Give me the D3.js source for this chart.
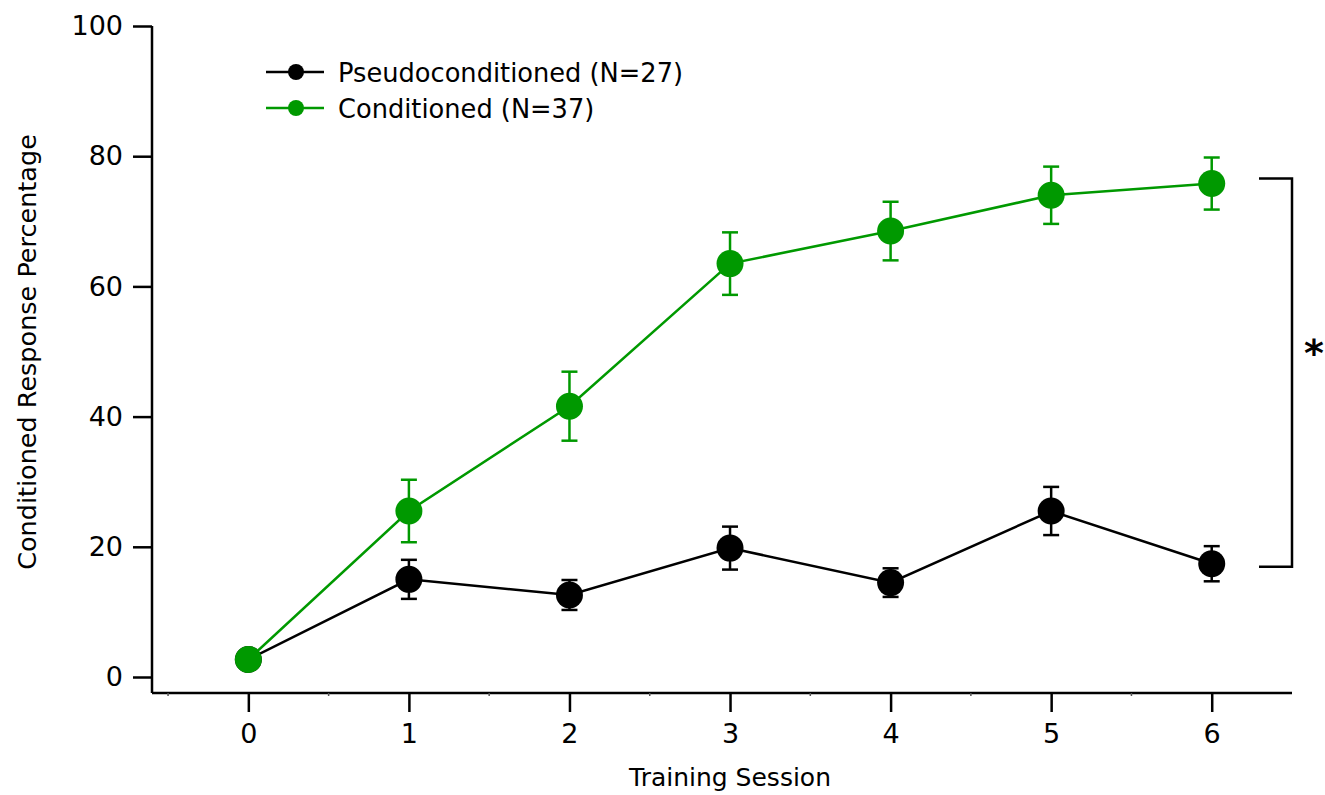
<!DOCTYPE html>
<html>
<head>
<meta charset="utf-8">
<script src="https://cdn.jsdelivr.net/npm/d3@7"></script>
<style>
  html, body { margin: 0; padding: 0; background: #fff; }
  svg { display: block; font-family: "DejaVu Sans", sans-serif; }
</style>
</head>
<body>
<svg id="chart" width="1325" height="795"></svg>
<script>
// ---- data ----
const sessions = [0, 1, 2, 3, 4, 5, 6];
const pseudoMean = [2.7, 15.0, 12.6, 19.8, 14.5, 25.5, 17.4];
const pseudoErr  = [0, 3.0, 2.3, 3.3, 2.2, 3.7, 2.7];
const condMean   = [2.7, 25.5, 41.6, 63.5, 68.5, 74.0, 75.8];
const condErr    = [0, 4.8, 5.3, 4.8, 4.5, 4.4, 4.0];
const seriesNames = ["Pseudoconditioned (N=27)", "Conditioned (N=37)"];
const seriesColors = ["#000000", "#009900"];
const yTicks = [0, 20, 40, 60, 80, 100];
const xTicks = [0, 1, 2, 3, 4, 5, 6];
const xMinorTicks = [-0.5, 0.5, 1.5, 2.5, 3.5, 4.5, 5.5];
const xTitle = "Training Session";
const yTitle = "Conditioned Response Percentage";
const sigMark = "*";

const svg = d3.select("#chart");
const x = d3.scaleLinear().domain([-0.6, 6.5]).range([152, 1292]);
const y = d3.scaleLinear().domain([0, 100]).range([677, 26]);
const xAxisY = 693;

// axes
const yAxis = svg.append("g").attr("transform", `translate(${x(-0.6)},0)`)
  .call(d3.axisLeft(y).tickValues(yTicks).tickSize(19).tickPadding(10).tickSizeOuter(0));
yAxis.select(".domain").remove();
yAxis.append("line").attr("x1", 0).attr("x2", 0).attr("y1", y(100)).attr("y2", xAxisY)
  .attr("stroke", "#000").attr("stroke-width", 2.5);
yAxis.selectAll(".tick line").attr("stroke-width", 2.5);
yAxis.selectAll(".tick text").attr("font-size", 27).attr("font-family", "DejaVu Sans").attr("fill", "#000");

const xAxis = svg.append("g").attr("transform", `translate(0,${xAxisY})`)
  .call(d3.axisBottom(x).tickValues(xTicks).tickSize(19).tickPadding(12).tickSizeOuter(0));
xAxis.select(".domain").remove();
xAxis.append("line").attr("x1", x(-0.6)).attr("x2", x(6.5)).attr("y1", 0).attr("y2", 0)
  .attr("stroke", "#000").attr("stroke-width", 2.5);
xAxis.selectAll(".tick line").attr("stroke-width", 2.5);
xAxis.selectAll(".tick text").attr("font-size", 27).attr("font-family", "DejaVu Sans").attr("fill", "#000");
xAxis.selectAll(".minor").data(xMinorTicks).enter().append("line")
  .attr("x1", d => x(d)).attr("x2", d => x(d)).attr("y1", 0).attr("y2", 3)
  .attr("stroke", "#555").attr("stroke-width", 1.5);

// titles
svg.append("text").attr("x", x(3)).attr("y", 786).attr("text-anchor", "middle")
  .attr("font-size", 25).text(xTitle);
svg.append("text").attr("transform", `translate(36,352) rotate(-90)`).attr("text-anchor", "middle")
  .attr("font-size", 25.5).text(yTitle);

// series
const allSeries = [
  { mean: pseudoMean, err: pseudoErr, color: seriesColors[0] },
  { mean: condMean, err: condErr, color: seriesColors[1] }
];
const line = d3.line().x(d => x(d[0])).y(d => y(d[1]));
allSeries.forEach(s => {
  const pts = sessions.map((t, i) => [t, s.mean[i], s.err[i]]);
  const g = svg.append("g");
  g.append("path").datum(pts).attr("d", line).attr("fill", "none")
    .attr("stroke", s.color).attr("stroke-width", 2.5);
  const eb = g.selectAll(".eb").data(pts.filter(p => p[2] > 0)).enter().append("g");
  eb.append("line").attr("x1", d => x(d[0])).attr("x2", d => x(d[0]))
    .attr("y1", d => y(d[1] + d[2])).attr("y2", d => y(d[1] - d[2]))
    .attr("stroke", s.color).attr("stroke-width", 2.5);
  [1, -1].forEach(sg => {
    eb.append("line").attr("x1", d => x(d[0]) - 8).attr("x2", d => x(d[0]) + 8)
      .attr("y1", d => y(d[1] + sg * d[2])).attr("y2", d => y(d[1] + sg * d[2]))
      .attr("stroke", s.color).attr("stroke-width", 2.5);
  });
  g.selectAll("circle").data(pts).enter().append("circle")
    .attr("cx", d => x(d[0])).attr("cy", d => y(d[1])).attr("r", 13.5)
    .attr("fill", s.color);
});

// significance bracket
const bx = 1292, bTop = y(condMean[6]) - 5, bBot = y(pseudoMean[6]) + 3;
svg.append("path")
  .attr("d", `M${bx - 33},${bTop} H${bx} V${bBot} H${bx - 33}`)
  .attr("fill", "none").attr("stroke", "#000").attr("stroke-width", 2.5);
svg.append("text").attr("x", 1314).attr("y", 366).attr("text-anchor", "middle")
  .attr("font-size", 38).attr("font-weight", "bold").text(sigMark);

// legend
const legY = [72, 108];
seriesNames.forEach((name, i) => {
  const g = svg.append("g").attr("transform", `translate(0,${legY[i]})`);
  g.append("line").attr("x1", 266).attr("x2", 324).attr("y1", 0).attr("y2", 0)
    .attr("stroke", seriesColors[i]).attr("stroke-width", 2.5);
  g.append("circle").attr("cx", 296).attr("cy", 0).attr("r", 8).attr("fill", seriesColors[i]);
  g.append("text").attr("x", 338).attr("y", 10).attr("font-size", 25.7).text(name);
});
</script>
</body>
</html>
